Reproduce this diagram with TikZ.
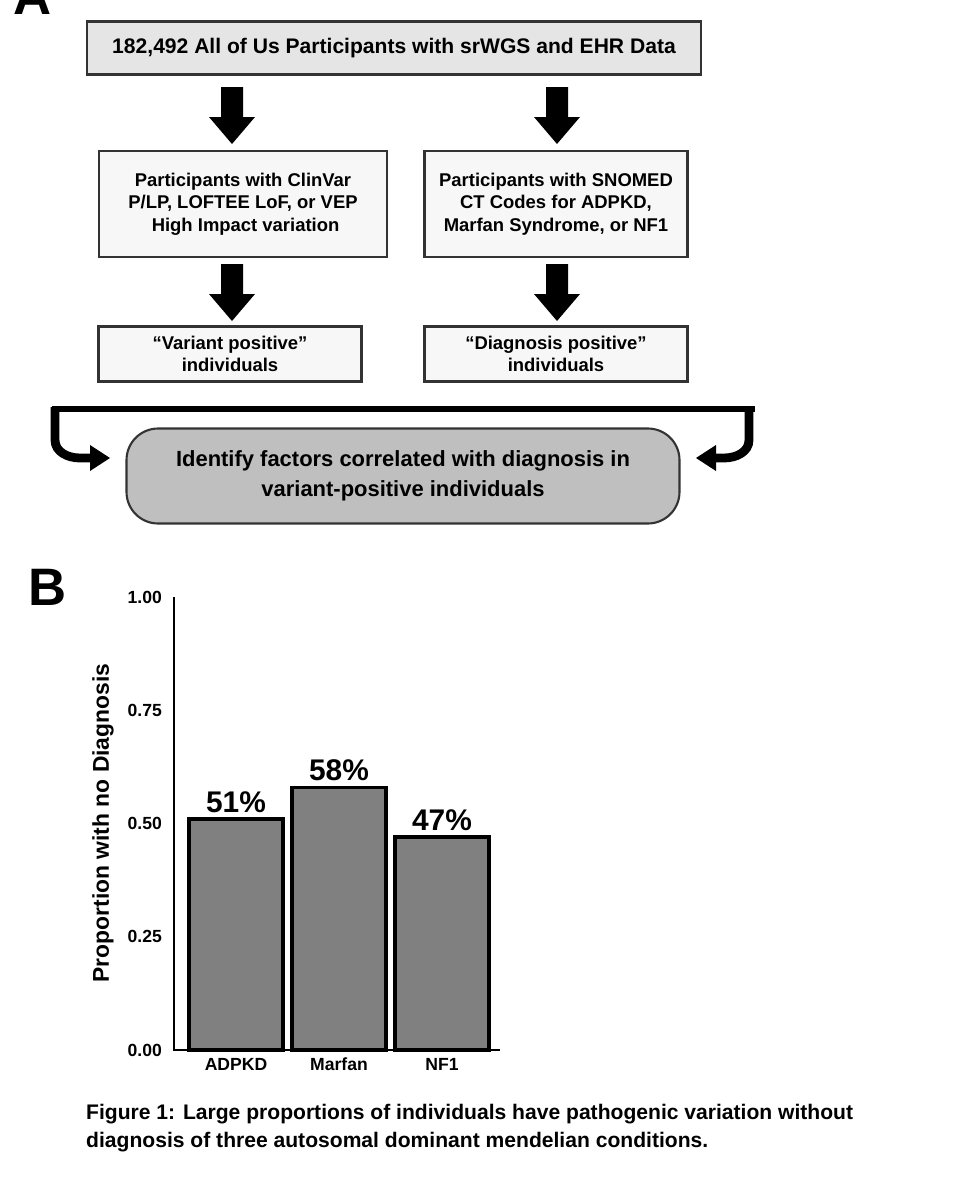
\documentclass[tikz,border=0pt]{standalone}
\usepackage{fontspec}
\setmainfont{Liberation Sans}
\usetikzlibrary{positioning}
\tikzset{
  flowbox/.style={draw=black!80,line width=1.2pt,fill=#1,font=\bfseries\fontsize{10.5}{12.8}\selectfont,align=center,inner sep=0pt},
  flowbox/.default={black!3},
  blockarrow/.style={fill=black,draw=none},
  bar/.style={draw=black,line width=2pt,fill=black!50},
}
\newcommand{\downblock}[2]{% x, y top
  \fill (#1-11,#2) -- (#1+11,#2) -- (#1+11,#2+30) -- (#1+23,#2+30) -- (#1,#2+57) -- (#1-23,#2+30) -- (#1-11,#2+30) -- cycle;}
\begin{document}
\begin{tikzpicture}[x=0.02cm,y=-0.02cm]
  \useasboundingbox (0,0) rectangle (961,1200);
  % panel A
  \node[font=\bfseries\fontsize{30}{30}\selectfont,anchor=base] (labA) at (33,14) {A};
  \node[flowbox=black!10,minimum width=614*0.02cm,minimum height=53*0.02cm,font=\bfseries\fontsize{12}{15}\selectfont] (all) at (394,48) {182,492 All of Us Participants with srWGS and EHR Data};
  \node[flowbox,minimum width=288*0.02cm,minimum height=106*0.02cm] (var) at (243,204) {Participants with ClinVar\\P/LP, LOFTEE LoF, or VEP\\ \ High Impact variation};
  \node[flowbox,minimum width=263*0.02cm,minimum height=106*0.02cm] (diag) at (556,204) {Participants with SNOMED\\CT Codes for ADPKD,\\Marfan Syndrome, or NF1};
  \node[flowbox,minimum width=263*0.02cm,minimum height=55*0.02cm] (varpos) at (230,354) {``Variant positive''\\individuals};
  \node[flowbox,minimum width=263*0.02cm,minimum height=55*0.02cm] (diagpos) at (556,354) {``Diagnosis positive''\\individuals};
  \node[flowbox=black!25,rounded corners=18pt,minimum width=553*0.02cm,minimum height=95*0.02cm,font=\bfseries\fontsize{12.5}{17}\selectfont] (ident) at (403,476) {Identify factors correlated with diagnosis in\\variant-positive individuals};
  \downblock{232}{87}
  \downblock{557}{87}
  \downblock{232}{264}
  \downblock{557}{264}
  % bracket
  \draw[line width=3.5pt] (52,409) -- (755,409);
  \draw[line width=5pt] (55,407) -- (55,440) to[out=-90,in=180] (80,458) -- (92,458);
  \fill (90,445) -- (110,458) -- (90,471) -- cycle;
  \draw[line width=5pt] (749,407) -- (749,440) to[out=-90,in=0] (724,458) -- (714,458);
  \fill (716,445) -- (696,458) -- (716,471) -- cycle;
  % panel B
  \node[font=\bfseries\fontsize{30}{30}\selectfont,anchor=base] (labB) at (48,605) {B};
  \draw[line width=1.5pt] (174,597) -- (174,1050) -- (500,1050);
  \foreach \v/\t in {0/0.00,0.25/0.25,0.5/0.50,0.75/0.75,1/1.00}
    \node[font=\bfseries\fontsize{10}{12}\selectfont,anchor=east] at (168,{1050-453*\v}) {\t};
  \node[rotate=90,font=\bfseries\fontsize{13}{15}\selectfont] (ylab) at (103,823) {Proportion with no Diagnosis};
  \foreach \x/\v/\n/\p in {236/0.51/ADPKD/51\%,339/0.58/Marfan/58\%,442/0.47/NF1/47\%}{
    \draw[bar] (\x-47,1050) rectangle (\x+47,{1050-453*\v});
    \node[font=\bfseries\fontsize{17}{20}\selectfont,anchor=south] at (\x,{1050-453*\v}) {\p};
    \node[font=\bfseries\fontsize{10}{12}\selectfont] at (\x,1064) {\n};
  }
  \node[font=\bfseries\fontsize{12}{16}\selectfont,align=left,anchor=north west] (cap) at (80,1098) {Figure 1: Large proportions of individuals have pathogenic variation without\\diagnosis of three autosomal dominant mendelian conditions.};
\end{tikzpicture}
\end{document}
